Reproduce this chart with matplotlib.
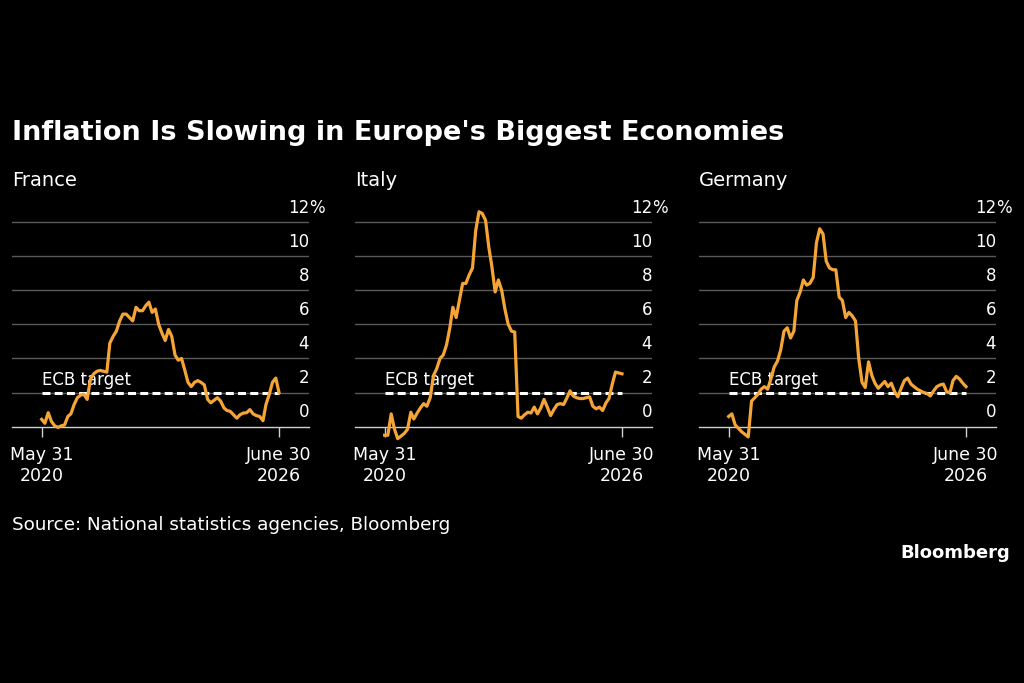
import numpy as np
import pandas as pd
import matplotlib
matplotlib.use("Agg")
import matplotlib.pyplot as plt
import matplotlib.dates as mdates

plt.rcParams['font.family'] = ['DejaVu Sans']

# Monthly data, May 2020 .. June 2026 (%)
dates = pd.date_range('2020-05-31', '2026-06-30', freq='ME')

france = [0.43, 0.2, 0.82, 0.3, 0.05, -0.04, 0.05, 0.1, 0.6, 0.75,
          1.3, 1.7, 1.85, 1.9, 1.6, 2.8, 3.1, 3.25, 3.3, 3.25,
          3.2, 4.9, 5.3, 5.6, 6.2, 6.6, 6.6, 6.4, 6.2, 7.0,
          6.8, 6.8, 7.1, 7.3, 6.7, 6.9, 6.0, 5.5, 5.05, 5.7,
          5.3, 4.2, 3.9, 4.0, 3.3, 2.6, 2.35, 2.6, 2.7, 2.6,
          2.45, 1.6, 1.4, 1.55, 1.7, 1.5, 1.1, 0.95, 0.9, 0.7,
          0.5, 0.7, 0.8, 0.82, 1.0, 0.75, 0.65, 0.6, 0.35, 1.3,
          1.9, 2.6, 2.85, 2.0]

italy = [-0.5, -0.5, 0.75, -0.15, -0.7, -0.55, -0.4, -0.15, 0.85, 0.45,
         0.8, 1.1, 1.35, 1.2, 1.7, 3.0, 3.4, 4.0, 4.2, 4.8,
         5.8, 7.0, 6.4, 7.4, 8.4, 8.4, 8.9, 9.3, 11.5, 12.6,
         12.5, 12.1, 10.5, 9.4, 7.9, 8.6, 8.0, 6.9, 6.0, 5.6,
         5.55, 0.6, 0.5, 0.7, 0.85, 0.8, 1.15, 0.75, 1.1, 1.6,
         1.15, 0.65, 1.0, 1.3, 1.35, 1.3, 1.7, 2.1, 1.8, 1.7,
         1.65, 1.65, 1.7, 1.75, 1.2, 1.05, 1.15, 0.95, 1.4, 1.65,
         2.5, 3.2, 3.15, 3.1]

germany = [0.6, 0.75, 0.1, -0.1, -0.3, -0.45, -0.6, 1.5, 1.7, 1.9,
           2.2, 2.35, 2.2, 2.8, 3.5, 3.85, 4.5, 5.6, 5.8, 5.2,
           5.6, 7.4, 7.9, 8.6, 8.3, 8.4, 8.75, 10.8, 11.6, 11.3,
           9.7, 9.3, 9.2, 9.2, 7.6, 7.4, 6.4, 6.7, 6.5, 6.2,
           4.0, 2.6, 2.3, 3.8, 3.0, 2.55, 2.25, 2.45, 2.65, 2.35,
           2.55, 2.05, 1.75, 2.25, 2.7, 2.85, 2.5, 2.35, 2.2, 2.1,
           2.0, 1.95, 1.8, 2.1, 2.35, 2.45, 2.5, 2.05, 2.0, 2.7,
           2.95, 2.8, 2.55, 2.35]

countries = ['France', 'Italy', 'Germany']
series = [france, italy, germany]
ecb_target = 2
y_ticks = [0, 2, 4, 6, 8, 10, 12]
x_labels = ['May 31\n2020', 'June 30\n2026']

orange = '#F5A536'
grid_col = '#5a5a5a'
zero_col = '#d0d0d0'

W, H = 1024, 683
fig = plt.figure(figsize=(W / 100, H / 100), dpi=100, facecolor='black')

px_per_unit = 17.06
y_top = 13
zero_px = 426.7
ax_h = y_top * px_per_unit
lefts = [12, 355, 699]
ax_w = 297

x0 = mdates.date2num(dates[0])
x1 = mdates.date2num(dates[-1])
span = x1 - x0

for left, name, vals in zip(lefts, countries, series):
    ax = fig.add_axes([left / W, 1 - zero_px / H, ax_w / W, ax_h / H])
    ax.set_facecolor('black')
    ax.set_ylim(0, y_top)
    ax.set_xlim(x0 - span * 0.125, x1 + span * 0.1264)

    for s in ['top', 'right', 'left']:
        ax.spines[s].set_visible(False)
    ax.spines['bottom'].set_color(zero_col)
    ax.spines['bottom'].set_linewidth(1.0)

    for v in y_ticks[1:]:
        ax.axhline(v, color=grid_col, lw=1.0, zorder=1)

    ytr = ax.get_yaxis_transform()
    for v in y_ticks:
        ax.text(1.0, v + 0.55, str(v), transform=ytr, ha='right', va='baseline',
                color='white', fontsize=12)
    ax.text(1.0, y_ticks[-1] + 0.55, '%', transform=ytr, ha='left', va='baseline',
            color='white', fontsize=12)
    ax.set_yticks([])

    ax.hlines(ecb_target, x0, x1, colors='white', lw=2.2, linestyles=(0, (2.6, 1.4)),
              zorder=2)
    ax.text(x0, ecb_target + 0.47, 'ECB target', ha='left', va='baseline',
            color='white', fontsize=12)

    ax.plot(dates, vals, color=orange, lw=2.3, clip_on=False, zorder=3,
            solid_joinstyle='round')

    ax.set_xticks([x0, x1])
    ax.set_xticklabels(x_labels, color='white', fontsize=12.5, linespacing=1.2)
    ax.tick_params(axis='x', direction='out', length=7, width=1, color=zero_col, pad=7)

    fig.text(left / W, 1 - 180 / H, name, ha='left', va='center', color='white',
             fontsize=14)

fig.text(12 / W, 1 - 133 / H, "Inflation Is Slowing in Europe's Biggest Economies",
         ha='left', va='center', color='white', fontsize=19.5, fontweight='bold')
fig.text(12 / W, 1 - 525 / H, 'Source: National statistics agencies, Bloomberg',
         ha='left', va='center', color='white', fontsize=13.2)
fig.text(1010 / W, 1 - 553 / H, 'Bloomberg', ha='right', va='center', color='white',
         fontsize=13, fontweight='bold')

fig.savefig('out.png', dpi=100, facecolor='black')
